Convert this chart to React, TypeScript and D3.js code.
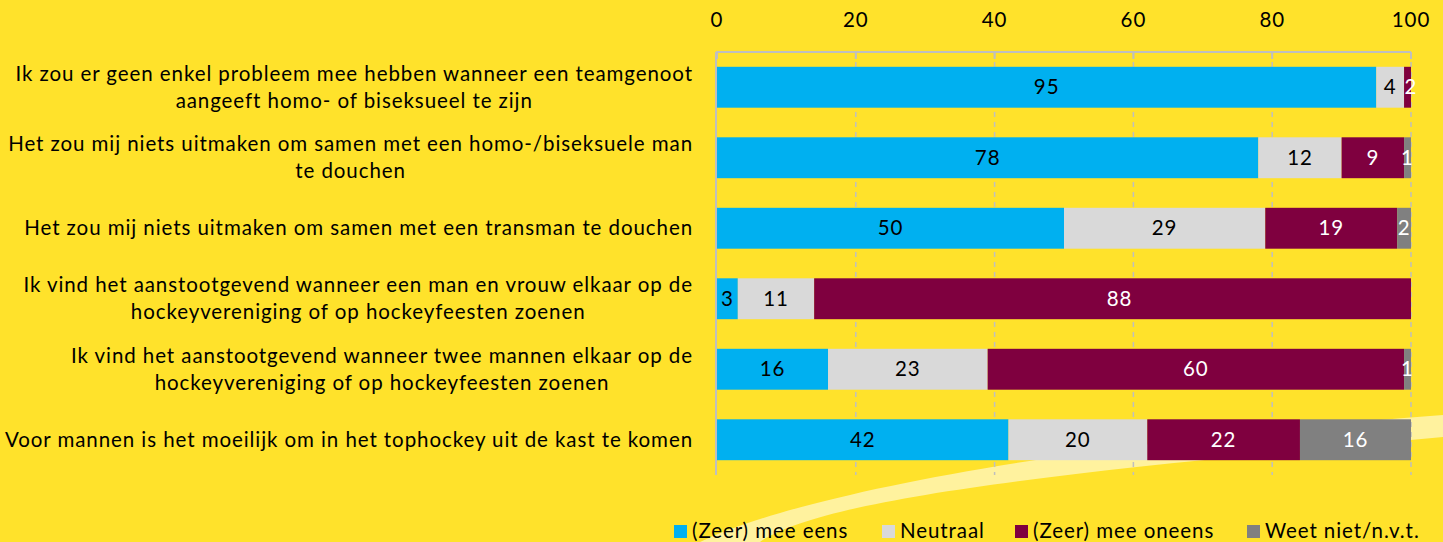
import React, { useEffect, useRef } from "react";
import * as d3 from "d3";

const categoryLines: string[][] = [
  ["Ik zou er geen enkel probleem mee hebben wanneer een teamgenoot", "aangeeft homo- of biseksueel te zijn"],
  ["Het zou mij niets uitmaken om samen met een homo-/biseksuele man", "te douchen"],
  ["Het zou mij niets uitmaken om samen met een transman te douchen"],
  ["Ik vind het aanstootgevend wanneer een man en vrouw elkaar op de", "hockeyvereniging of op hockeyfeesten zoenen"],
  ["Ik vind het aanstootgevend wanneer twee mannen elkaar op de", "hockeyvereniging of op hockeyfeesten zoenen"],
  ["Voor mannen is het moeilijk om in het tophockey uit de kast te komen"],
];
const categories = categoryLines.map((l) => l.join(" "));

const seriesNames = ["(Zeer) mee eens", "Neutraal", "(Zeer) mee oneens", "Weet niet/n.v.t."];
const agree = [95, 78, 50, 3, 16, 42];
const neutral = [4, 12, 29, 11, 23, 20];
const disagree = [2, 9, 19, 88, 60, 22];
const dontKnow = [0, 1, 2, 0, 1, 16];
const seriesValues = [agree, neutral, disagree, dontKnow];
const seriesColors = ["#00B0F0", "#D9D9D9", "#7F003F", "#808080"];
const labelColors = ["#000000", "#000000", "#FFFFFF", "#FFFFFF"];
const xTicks = [0, 20, 40, 60, 80, 100];

const W = 1443;
const H = 542;
const BG = "#FFE22B";
const FONT = "Lato, 'Open Sans', sans-serif";
const FS = 20.5;

export default function App() {
  const ref = useRef<SVGSVGElement | null>(null);

  useEffect(() => {
    const svg = d3.select(ref.current);
    svg.selectAll("*").remove();

    svg.append("rect").attr("width", W).attr("height", H).attr("fill", BG);

    // measure letter spacing so that the longest label fits the reference width
    const probe = svg
      .append("text")
      .attr("font-family", FONT)
      .attr("font-size", FS)
      .text(categoryLines[5][0]);
    const probeW = (probe.node() as SVGTextElement).getComputedTextLength();
    probe.remove();
    const nChars = categoryLines[5][0].length;
    const LS = Math.max(0, (688 - probeW) / nChars);

    // decorative swoosh (background ornament)
    const swoosh = d3.path();
    swoosh.moveTo(700, 542);
    swoosh.bezierCurveTo(800, 495, 1050, 445, 1443, 415);
    swoosh.lineTo(1443, 437);
    swoosh.bezierCurveTo(1150, 465, 830, 492, 760, 542);
    swoosh.closePath();
    svg.append("path").attr("d", swoosh.toString()).attr("fill", "#FFF29E");

    const x = d3.scaleLinear().domain([0, 100]).range([717, 1411]);
    const y = d3.scaleBand().domain(categories).range([52, 475]).paddingInner(0.42).paddingOuter(0.21);

    // gridlines
    svg
      .append("g")
      .selectAll("line")
      .data(xTicks.filter((t) => t > 0))
      .join("line")
      .attr("x1", (d) => x(d))
      .attr("x2", (d) => x(d))
      .attr("y1", 52)
      .attr("y2", 475)
      .attr("stroke", "#BFBFBF")
      .attr("stroke-width", 1.5)
      .attr("stroke-dasharray", "5,5");

    // clip
    svg
      .append("clipPath")
      .attr("id", "plotclip")
      .append("rect")
      .attr("x", x(0))
      .attr("y", 0)
      .attr("width", x(100) - x(0))
      .attr("height", H);

    const bars = svg.append("g").attr("clip-path", "url(#plotclip)");
    const labels = svg.append("g");

    categories.forEach((cat, i) => {
      let acc = 0;
      seriesValues.forEach((vals, s) => {
        const v = vals[i];
        const x0 = acc;
        const x1 = acc + v;
        acc = x1;
        if (v <= 0) return;
        bars
          .append("rect")
          .attr("x", x(x0))
          .attr("y", y(cat)!)
          .attr("width", x(x1) - x(x0))
          .attr("height", y.bandwidth())
          .attr("fill", seriesColors[s]);
        labels
          .append("text")
          .attr("x", x((x0 + x1) / 2))
          .attr("y", y(cat)! + y.bandwidth() / 2)
          .attr("dy", "0.35em")
          .attr("text-anchor", "middle")
          .attr("font-family", FONT)
          .attr("font-size", FS)
          .attr("letter-spacing", LS)
          .attr("fill", labelColors[s])
          .text(String(v));
      });
    });

    // axis lines
    const axis = svg.append("g");
    axis
      .append("line")
      .attr("x1", x(0) - 1)
      .attr("x2", x(0) - 1)
      .attr("y1", 52)
      .attr("y2", 475)
      .attr("stroke", "#BFBFBF")
      .attr("stroke-width", 2);
    axis
      .append("line")
      .attr("x1", x(0) - 1)
      .attr("x2", x(100))
      .attr("y1", 52)
      .attr("y2", 52)
      .attr("stroke", "#BFBFBF")
      .attr("stroke-width", 2);
    axis
      .selectAll("line.tick")
      .data(xTicks)
      .join("line")
      .attr("class", "tick")
      .attr("x1", (d) => x(d))
      .attr("x2", (d) => x(d))
      .attr("y1", 52)
      .attr("y2", 59)
      .attr("stroke", "#BFBFBF")
      .attr("stroke-width", 2);
    axis
      .selectAll("text")
      .data(xTicks)
      .join("text")
      .attr("x", (d) => x(d))
      .attr("y", 20)
      .attr("dy", "0.35em")
      .attr("text-anchor", "middle")
      .attr("font-family", FONT)
      .attr("font-size", FS)
      .attr("letter-spacing", LS)
      .attr("fill", "#000")
      .text((d) => String(d));

    // category labels
    const catG = svg.append("g");
    const rightEdge = 693;
    const lineH = 27;
    categoryLines.forEach((lines, i) => {
      const cy = y(categories[i])! + y.bandwidth() / 2;
      const g = catG.append("g");
      const texts = lines.map((ln, k) =>
        g
          .append("text")
          .attr("y", cy + (k - (lines.length - 1) / 2) * lineH)
          .attr("dy", "0.35em")
          .attr("font-family", FONT)
          .attr("font-size", FS)
          .attr("letter-spacing", LS)
          .attr("fill", "#000")
          .attr("text-anchor", "middle")
          .text(ln)
      );
      const widths = texts.map((t) => (t.node() as SVGTextElement).getComputedTextLength());
      const maxW = Math.max(...widths);
      const cx = rightEdge - maxW / 2;
      texts.forEach((t) => t.attr("x", cx));
    });

    // legend
    const legendX = [674, 882, 1015, 1247];
    const legend = svg.append("g");
    seriesNames.forEach((name, s) => {
      legend
        .append("rect")
        .attr("x", legendX[s])
        .attr("y", 525)
        .attr("width", 13)
        .attr("height", 13)
        .attr("fill", seriesColors[s]);
      legend
        .append("text")
        .attr("x", legendX[s] + 18)
        .attr("y", 531)
        .attr("dy", "0.35em")
        .attr("font-family", FONT)
        .attr("font-size", FS)
        .attr("letter-spacing", LS)
        .attr("fill", "#000")
        .text(name);
    });
  }, []);

  return (
    <svg
      ref={ref}
      width={W}
      height={H}
      style={{ position: "fixed", left: 0, top: 0, display: "block" }}
    />
  );
}
